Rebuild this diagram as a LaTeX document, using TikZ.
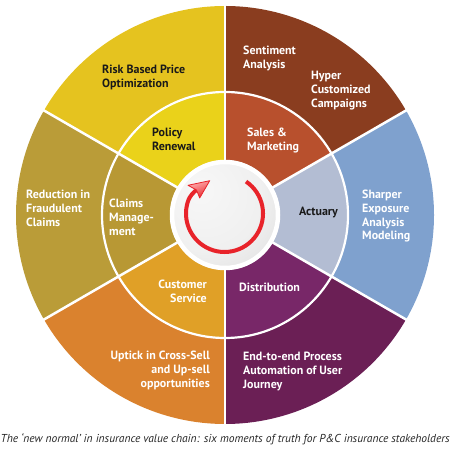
\documentclass[tikz,border=0pt]{standalone}
\usepackage{fontspec}
\usepackage{graphicx}
\setmainfont{PT Sans}
\definecolor{oYel}{RGB}{229,195,31}
\definecolor{iYel}{RGB}{234,210,26}
\definecolor{oBrn}{RGB}{138,61,31}
\definecolor{iBrn}{RGB}{184,80,45}
\definecolor{oBlu}{RGB}{127,161,206}
\definecolor{iBlu}{RGB}{179,189,211}
\definecolor{oPur}{RGB}{107,31,85}
\definecolor{iPur}{RGB}{120,39,104}
\definecolor{oOrg}{RGB}{218,130,46}
\definecolor{iOrg}{RGB}{224,160,39}
\definecolor{oOlv}{RGB}{186,156,56}
\definecolor{iOlv}{RGB}{184,152,52}
\definecolor{arrRed}{RGB}{232,35,42}
\definecolor{txtDark}{RGB}{25,25,25}
\pgfdeclareradialshading{coreshade}{\pgfpoint{-12bp}{12bp}}{color(0bp)=(black!3); color(25bp)=(black!6); color(50bp)=(black!16); color(62bp)=(black!24); color(80bp)=(black!30)}
\newcommand\labl[1]{\begin{tabular}[t]{@{}l@{}}#1\end{tabular}}
\newcommand\labr[1]{\begin{tabular}[t]{@{}r@{}}#1\end{tabular}}
\tikzset{
  lab/.style={font=\fontsize{12}{13.7}\selectfont\bfseries, inner sep=0pt, anchor=base west, text=white},
  labR/.style={lab, anchor=base east},
  dark/.style={text=txtDark},
  sep/.style={white, line width=2.5bp},
}
\begin{document}
\begin{tikzpicture}[x=1bp,y=1bp]
\useasboundingbox (0,0) rectangle (450,450);
\coordinate (C) at (225,235);
% outer ring
\foreach \a/\b/\c in {90/150/oYel, 30/90/oBrn, -30/30/oBlu, -90/-30/oPur, -150/-90/oOrg, 150/210/oOlv}
  \fill[\c] (C) -- ++(\a:209) arc[start angle=\a, end angle=\b, radius=209] -- cycle;
% inner ring
\foreach \a/\b/\c in {90/150/iYel, 30/90/iBrn, -30/30/iBlu, -90/-30/iPur, -150/-90/iOrg, 150/210/iOlv}
  \fill[\c] (C) -- ++(\a:123) arc[start angle=\a, end angle=\b, radius=123] -- cycle;
% separators
\foreach \a in {30,90,150,210,270,330}
  \draw[sep] (C) -- ++(\a:211);
\draw[white, line width=2.2bp] (C) circle[radius=123];
% core
\shade[shading=coreshade] (C) circle[radius=55];
\draw[white, line width=4.5bp] (C) circle[radius=53];
% red circular arrow
\coordinate (A) at (224.5,236.5);
\coordinate (notch) at (196.5,260);
\draw[arrRed, line width=4bp] ([shift={(56:38.5)}]A) arc[start angle=56, end angle=-200, radius=38.5]
  .. controls +(70:4) and (193.2,257.7) .. (notch);
\shade[draw=arrRed, line width=0.8bp, top color=red!30!white, bottom color=arrRed, shading angle=20, line join=round]
  (209.7,269.3) -- (188,264.7) -- (notch) -- (199.7,252) -- cycle;
% labels
\node[lab, dark] (risk) at (102,376) {\labl{Risk Based Price\\Optimization}};
\node[lab] (sent) at (243,395) {\labl{Sentiment\\Analysis}};
\node[lab] (hyper) at (311,370) {\labl{Hyper\\Customized\\Campaigns}};
\node[lab, dark] (policy) at (152,313) {\labl{Policy\\Renewal}};
\node[lab] (sales) at (247,313) {\labl{Sales \&\\Marketing}};
\node[lab, dark] (act) at (299,234) {\labl{Actuary}};
\node[lab] (claims) at (109,242) {\labl{Claims\\Manage-\\ment}};
\node[labR] (cust) at (207,161) {\labr{Customer\\Service}};
\node[lab] (dist) at (239,158) {\labl{Distribution}};
\node[lab] (fraud) at (26,251) {\labl{Reduction in\\Fraudulent\\Claims}};
\node[lab] (sharp) at (362,251) {\labl{Sharper\\Exposure\\Analysis\\Modeling}};
\node[labR] (uptick) at (210,90) {\labr{Uptick in Cross-Sell\\and Up-sell\\opportunities}};
\node[lab] (e2e) at (243,89) {\labl{End-to-end Process\\Automation of User\\Journey}};
\node[anchor=base west, inner sep=0pt, font=\fontsize{8}{9}\selectfont\itshape, text=black!85] (cap) at (0.5,7)
  {\resizebox{449bp}{!}{The ‘new normal’ in insurance value chain: six moments of truth for P\&C insurance stakeholders}};
\end{tikzpicture}
\end{document}
